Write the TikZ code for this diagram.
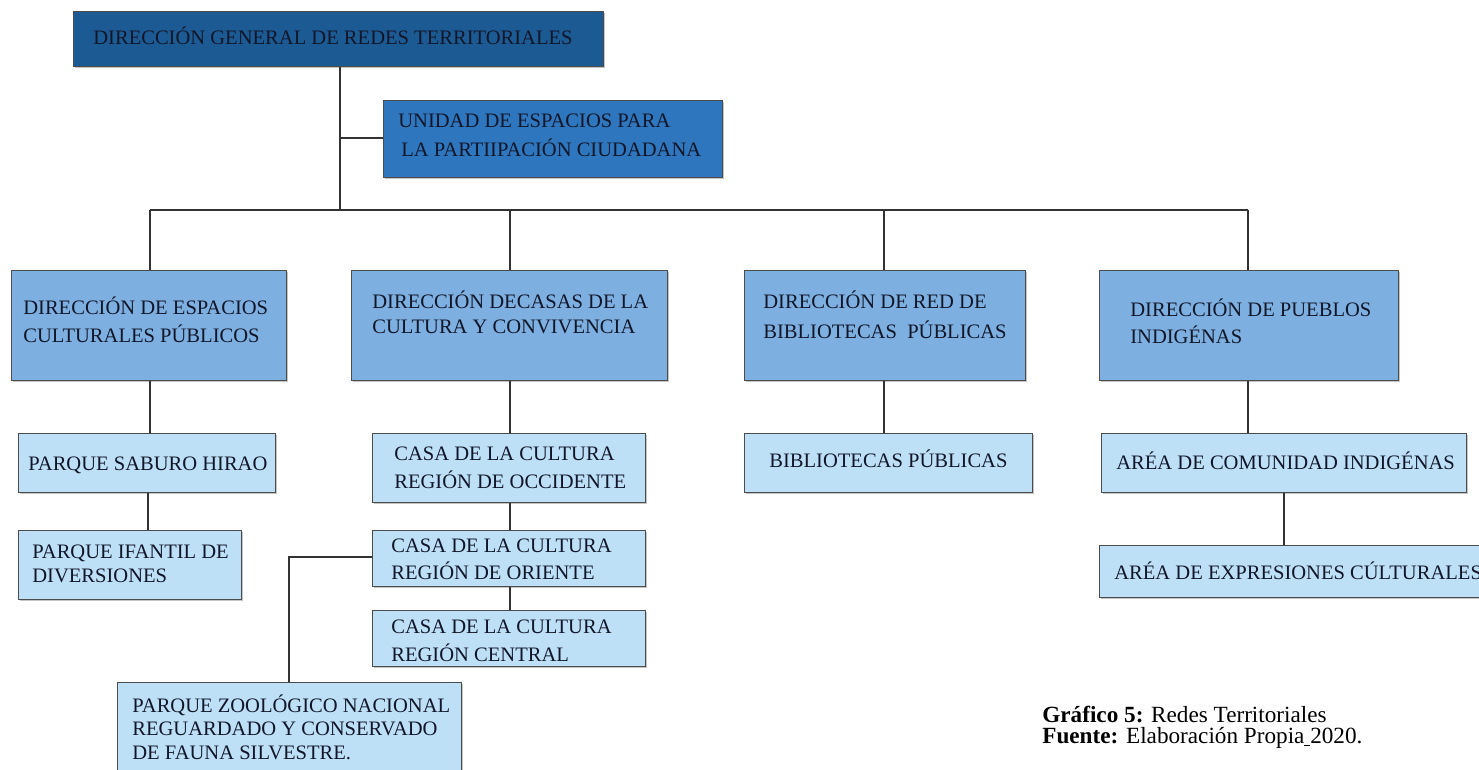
\documentclass[tikz,border=0pt]{standalone}
\usepackage{fontspec}
\setmainfont{Liberation Serif}
\usetikzlibrary{shadows}
\definecolor{czero}{HTML}{1C5A93}
\definecolor{cone}{HTML}{2E77BE}
\definecolor{ctwo}{HTML}{7DB0E0}
\definecolor{cthree}{HTML}{BEE0F6}
\definecolor{txtc}{HTML}{121629}
\newcommand\fs{\fontsize{11.7}{14}\selectfont}
\newcommand\capfs{\fontsize{13.2}{15}\selectfont}
\newcommand\bx[7]{\node[#2, fill=#7, minimum width={(#5-#3)*0.02cm}, minimum height={(#6-#4)*0.02cm}] (#1) at (#3,#4) {};}
\begin{document}
\begin{tikzpicture}[x=0.02cm,y=-0.02cm,
  box/.style={draw=black!70, line width=0.6pt, anchor=north west, inner sep=0pt,
    drop shadow={shadow xshift=0.7pt,shadow yshift=-0.7pt,fill=black!45,opacity=0.5}},
  txt/.style={anchor=base west, inner sep=0pt, font=\fs, text=txtc},
  captxt/.style={anchor=base west, inner sep=0pt, font=\capfs, text=black},
  conn/.style={draw=black!80, line width=0.7pt}]
\useasboundingbox (0,0) rectangle (1479,769);
\fill[white] (0,0) rectangle (1479,769);
% connector coordinates
\coordinate (bus0) at (340,210);
\coordinate (busA) at (150,210);
\coordinate (busB) at (510,210);
\coordinate (busC) at (884,210);
\coordinate (busD) at (1248,210);
\coordinate (ub) at (340,138);
\coordinate (zk) at (289,557);
\coordinate (xi) at (148,0);
\coordinate (xe) at (1284,0);
% boxes
\bx{top}{box}{73}{11}{603}{66}{czero}
\bx{unit}{box}{383}{100}{722}{177}{cone}
\bx{dA}{box}{11}{270}{286}{380}{ctwo}
\bx{dB}{box}{351}{270}{667}{380}{ctwo}
\bx{dC}{box}{744}{270}{1025}{380}{ctwo}
\bx{dD}{box}{1099}{270}{1398}{380}{ctwo}
\bx{sab}{box}{18}{433}{275}{492}{cthree}
\bx{ifa}{box}{18}{530}{241}{599}{cthree}
\bx{occ}{box}{372}{433}{645}{502}{cthree}
\bx{ori}{box}{372}{530}{645}{586}{cthree}
\bx{cen}{box}{372}{610}{645}{666}{cthree}
\bx{zoo}{box}{117}{682}{461}{790}{cthree}
\bx{bib}{box}{744}{433}{1032}{492}{cthree}
\bx{com}{box}{1101}{433}{1466}{492}{cthree}
\bx{exp}{box}{1099}{545}{1500}{597}{cthree}
% lines
\draw[conn] (top.south -| bus0) -- (bus0);
\draw[conn] (ub) -- (unit.west |- ub);
\draw[conn] (busA) -- (busD);
\draw[conn] (busA) -- (dA.north -| busA);
\draw[conn] (busB) -- (dB.north -| busB);
\draw[conn] (busC) -- (dC.north -| busC);
\draw[conn] (busD) -- (dD.north -| busD);
\draw[conn] (dA.south -| busA) -- (sab.north -| busA);
\draw[conn] (sab.south -| xi) -- (ifa.north -| xi);
\draw[conn] (dB.south -| busB) -- (occ.north -| busB);
\draw[conn] (occ.south -| busB) -- (ori.north -| busB);
\draw[conn] (ori.south -| busB) -- (cen.north -| busB);
\draw[conn] (ori.west |- zk) -- (zk) -- (zoo.north -| zk);
\draw[conn] (dC.south -| busC) -- (bib.north -| busC);
\draw[conn] (dD.south -| busD) -- (com.north -| busD);
\draw[conn] (com.south -| xe) -- (exp.north -| xe);
% texts
\node[txt] (topT) at (93,44) {DIRECCIÓN GENERAL DE REDES TERRITORIALES};
\node[txt] (unitT1) at (398,127) {UNIDAD DE ESPACIOS PARA};
\node[txt] (unitT2) at (401,156) {LA PARTIIPACIÓN CIUDADANA};
\node[txt] (dAT1) at (23,314) {DIRECCIÓN DE ESPACIOS};
\node[txt] (dAT2) at (23,342) {CULTURALES PÚBLICOS};
\node[txt] (dBT1) at (372,308) {DIRECCIÓN DECASAS DE LA};
\node[txt] (dBT2) at (372,333) {CULTURA Y CONVIVENCIA};
\node[txt] (dCT1) at (763,308) {DIRECCIÓN DE RED DE};
\node[txt] (dCT2) at (763,338) {BIBLIOTECAS~ PÚBLICAS};
\node[txt] (dDT1) at (1130,316) {DIRECCIÓN DE PUEBLOS};
\node[txt] (dDT2) at (1130,343) {INDIGÉNAS};
\node[txt] (sabT) at (28,470) {PARQUE SABURO HIRAO};
\node[txt] (ifaT1) at (32,558) {PARQUE IFANTIL DE};
\node[txt] (ifaT2) at (32,582) {DIVERSIONES};
\node[txt] (occT1) at (394,460) {CASA DE LA CULTURA};
\node[txt] (occT2) at (394,488) {REGIÓN DE OCCIDENTE};
\node[txt] (oriT1) at (391,552) {CASA DE LA CULTURA};
\node[txt] (oriT2) at (391,579) {REGIÓN DE ORIENTE};
\node[txt] (cenT1) at (391,633) {CASA DE LA CULTURA};
\node[txt] (cenT2) at (391,661) {REGIÓN CENTRAL};
\node[txt] (zooT1) at (132,712) {PARQUE ZOOLÓGICO NACIONAL};
\node[txt] (zooT2) at (132,735) {REGUARDADO Y CONSERVADO};
\node[txt] (zooT3) at (132,759) {DE FAUNA SILVESTRE.};
\node[txt] (bibT) at (769,467) {BIBLIOTECAS PÚBLICAS};
\node[txt] (comT) at (1116,469) {ARÉA DE COMUNIDAD INDIGÉNAS};
\node[txt] (expT) at (1114,579) {ARÉA DE EXPRESIONES CÚLTURALES};
\node[captxt] (cap1) at (1042,722) {\textbf{Gráfico 5:} Redes Territoriales};
\node[captxt] (cap2) at (1042,743) {\textbf{Fuente:} Elaboración Propia\underline{ }2020.};
\end{tikzpicture}
\end{document}
